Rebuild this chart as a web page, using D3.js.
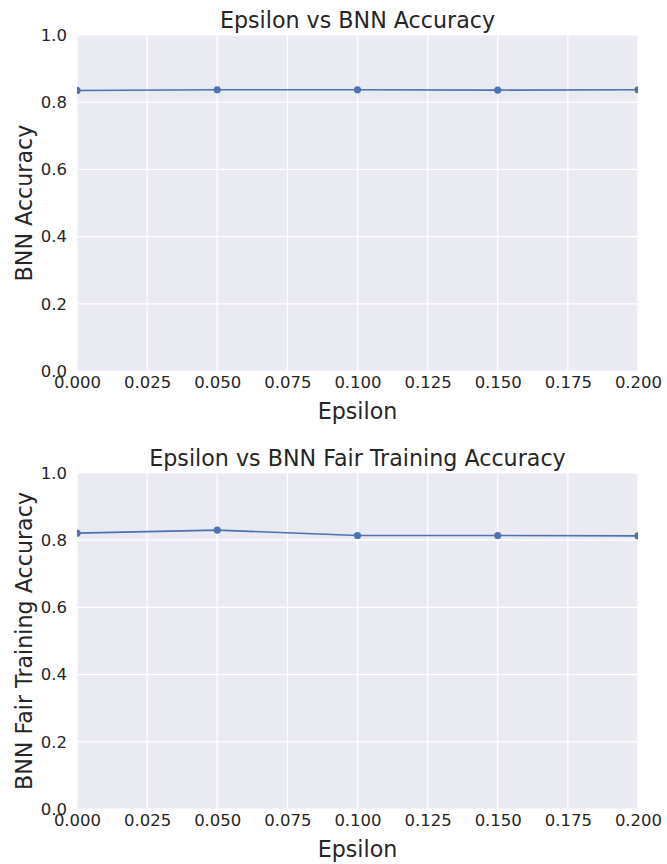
<!DOCTYPE html>
<html>
<head>
<meta charset="utf-8">
<script src="https://cdn.jsdelivr.net/npm/d3@7"></script>
<style>
  body { margin: 0; background: #fff; }
  text { font-family: "DejaVu Sans", sans-serif; fill: #262626; }
</style>
</head>
<body>
<svg></svg>
<script>
const epsilons = [0.0, 0.05, 0.10, 0.15, 0.20];
const bnnAccuracy = [0.835, 0.837, 0.837, 0.836, 0.837];
const fairAccuracy = [0.821, 0.830, 0.814, 0.814, 0.813];
const xTicks = [0, 0.025, 0.05, 0.075, 0.1, 0.125, 0.15, 0.175, 0.2];
const yTicks = [0, 0.2, 0.4, 0.6, 0.8, 1.0];

const svgWidth = 667;
const svgHeight = 864;

const svg = d3.select('svg')
    .attr('width', svgWidth)
    .attr('height', svgHeight);

const panels = [
  { title: 'Epsilon vs BNN Accuracy', ylabel: 'BNN Accuracy', values: bnnAccuracy, top: 35 },
  { title: 'Epsilon vs BNN Fair Training Accuracy', ylabel: 'BNN Fair Training Accuracy', values: fairAccuracy, top: 473 }
];

const left = 77;
const right = 638;
const plotHeight = 336;
const color = '#4c72b0';

panels.forEach((p) => {
  const g = svg.append('g').attr('transform', `translate(${left}, ${p.top})`);
  const w = right - left;

  const x = d3.scaleLinear().domain([0, 0.2]).range([0, w]);
  const y = d3.scaleLinear().domain([0, 1]).range([plotHeight, 0]);

  g.append('rect')
    .attr('width', w)
    .attr('height', plotHeight)
    .attr('fill', '#eaeaf2');

  // grid
  g.selectAll('.vgrid').data(xTicks).enter().append('line')
    .attr('x1', (d) => x(d)).attr('x2', (d) => x(d))
    .attr('y1', 0).attr('y2', plotHeight)
    .attr('stroke', '#fff').attr('stroke-width', 1.2);
  g.selectAll('.hgrid').data(yTicks).enter().append('line')
    .attr('x1', 0).attr('x2', w)
    .attr('y1', (d) => y(d)).attr('y2', (d) => y(d))
    .attr('stroke', '#fff').attr('stroke-width', 1.2);

  const xAxis = g.append('g')
    .attr('transform', `translate(0, ${plotHeight})`)
    .call(d3.axisBottom(x).tickValues(xTicks).tickFormat(d3.format('.3f')).tickSize(0).tickPadding(5));
  const yAxis = g.append('g')
    .call(d3.axisLeft(y).tickValues(yTicks).tickFormat(d3.format('.1f')).tickSize(0).tickPadding(10));
  [xAxis, yAxis].forEach((a) => {
    a.select('.domain').remove();
    a.selectAll('text').attr('font-size', 16.5).attr('fill', '#262626')
      .attr('font-family', '"DejaVu Sans", sans-serif');
  });

  const line = d3.line()
    .x((d, i) => x(epsilons[i]))
    .y((d) => y(d));

  const clip = 'clip' + p.top;
  g.append('clipPath').attr('id', clip).append('rect').attr('width', w).attr('height', plotHeight);
  const marks = g.append('g').attr('clip-path', `url(#${clip})`);

  marks.append('path')
    .datum(p.values)
    .attr('d', line)
    .attr('fill', 'none')
    .attr('stroke', color)
    .attr('stroke-width', 1.6);

  marks.selectAll('circle').data(p.values).enter().append('circle')
    .attr('cx', (d, i) => x(epsilons[i]))
    .attr('cy', (d) => y(d))
    .attr('r', 3.6)
    .attr('fill', color);

  svg.append('text')
    .attr('x', left + w / 2)
    .attr('y', p.top - 7)
    .attr('text-anchor', 'middle')
    .attr('font-size', 22.2)
    .text(p.title);

  svg.append('text')
    .attr('x', left + w / 2)
    .attr('y', p.top + plotHeight + 48)
    .attr('text-anchor', 'middle')
    .attr('font-size', 22.2)
    .text('Epsilon');

  svg.append('text')
    .attr('transform', `translate(32, ${p.top + plotHeight / 2}) rotate(-90)`)
    .attr('text-anchor', 'middle')
    .attr('font-size', 22.2)
    .text(p.ylabel);
});
</script>
</body>
</html>
